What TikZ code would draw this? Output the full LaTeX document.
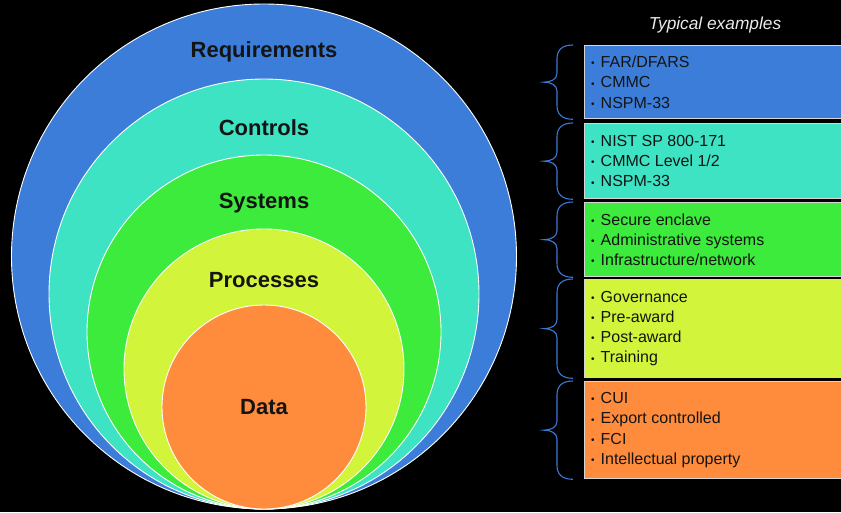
\documentclass[tikz,border=0pt]{standalone}
\usepackage{fontspec}
\setmainfont{Liberation Sans}
\usetikzlibrary{calc}

\definecolor{reqblue}{HTML}{3C7DD9}
\definecolor{ctlteal}{HTML}{3DE3C3}
\definecolor{sysgreen}{HTML}{3CEB3C}
\definecolor{procyellow}{HTML}{D2F53C}
\definecolor{dataorange}{HTML}{FF8C3C}
\definecolor{boxedge}{HTML}{D6D6D6}
\definecolor{bracecol}{HTML}{3C78D8}
\definecolor{inktext}{HTML}{141414}

\tikzset{
  ring/.style={circle, draw=white, line width=0.9pt, inner sep=0pt},
  ringlabel/.style={font=\fontsize{22}{26}\selectfont\bfseries, text=inktext},
  examplebox/.style={rectangle, draw=boxedge, line width=1.3pt, inner sep=0pt,
                     minimum width=300pt, anchor=north west},
  itemlist/.style={anchor=west, align=left, inner sep=0pt, text=inktext,
                   font=\fontsize{16}{20.2}\selectfont},
  bracepen/.style={draw=bracecol, line width=1.1pt},
}

% Curly brace to the left of a box, spanning its full height
\newcommand\sidebrace[1]{%
  \draw[bracepen] let \p1=(#1.north west), \p2=(#1.south west), \p3=(#1.west) in
    (\x1-11pt,\y1) .. controls (\x1-22pt,\y1) and (\x1-27pt,\y1-5pt) .. (\x1-27pt,\y1-14pt)
    -- (\x1-27pt,\y3+9pt) .. controls (\x1-27pt,\y3+3pt) and (\x1-33pt,\y3) .. (\x1-40pt,\y3)
    .. controls (\x1-33pt,\y3) and (\x1-27pt,\y3-3pt) .. (\x1-27pt,\y3-9pt)
    -- (\x1-27pt,\y2+14pt) .. controls (\x1-27pt,\y2+5pt) and (\x1-22pt,\y2) .. (\x1-11pt,\y2);
}

\newcommand\bul{\raisebox{0.1ex}{\fontsize{10}{10}\selectfont\textbullet}\hspace{6pt}}

\begin{document}
\begin{tikzpicture}[x=1pt, y=-1pt]
  \fill[black] (0,0) rectangle (841,512);
  \useasboundingbox (0,0) rectangle (841,512);
  \clip (0,0) rectangle (841,512);

  % Nested circles, all touching at the bottom
  \node[ring, fill=reqblue,    minimum size=505pt] (req)  at (264,256.5) {};
  \node[ring, fill=ctlteal,    minimum size=430pt] (ctl)  at (264,294) {};
  \node[ring, fill=sysgreen,   minimum size=354pt] (sys)  at (264,332) {};
  \node[ring, fill=procyellow, minimum size=280pt] (proc) at (264,369) {};
  \node[ring, fill=dataorange, minimum size=204pt] (data) at (264,407) {};

  \node[ringlabel] (lreq)  at (264,52)  {Requirements};
  \node[ringlabel] (lctl)  at (264,128) {Controls};
  \node[ringlabel] (lsys)  at (264,203) {Systems};
  \node[ringlabel] (lproc) at (264,280) {Processes};
  \node[ringlabel] (ldata) at (264,407) {Data};

  % Column heading
  \node[text=white!92!black, font=\fontsize{17.3}{20}\selectfont\itshape] (head) at (715,25) {Typical examples};

  % Example boxes
  \node[examplebox, fill=reqblue,    minimum height=73pt] (b1) at (584,45)  {};
  \node[examplebox, fill=ctlteal,    minimum height=75pt] (b2) at (584,123) {};
  \node[examplebox, fill=sysgreen,   minimum height=74pt] (b3) at (584,202) {};
  \node[examplebox, fill=procyellow, minimum height=98pt] (b4) at (584,279) {};
  \node[examplebox, fill=dataorange, minimum height=97pt] (b5) at (584,381) {};

  \node[itemlist] (t1) at ([xshift=7pt]b1.west) {\bul FAR/DFARS\\ \bul CMMC\\ \bul NSPM-33};
  \node[itemlist] (t2) at ([xshift=7pt]b2.west) {\bul NIST SP 800-171\\ \bul CMMC Level 1/2\\ \bul NSPM-33};
  \node[itemlist] (t3) at ([xshift=7pt]b3.west) {\bul Secure enclave\\ \bul Administrative systems\\ \bul Infrastructure/network};
  \node[itemlist] (t4) at ([xshift=7pt]b4.west) {\bul Governance\\ \bul Pre-award\\ \bul Post-award\\ \bul Training};
  \node[itemlist] (t5) at ([xshift=7pt]b5.west) {\bul CUI\\ \bul Export controlled\\ \bul FCI\\ \bul Intellectual property};

  % Braces
  \sidebrace{b1}
  \sidebrace{b2}
  \sidebrace{b3}
  \sidebrace{b4}
  \sidebrace{b5}
\end{tikzpicture}
\end{document}
